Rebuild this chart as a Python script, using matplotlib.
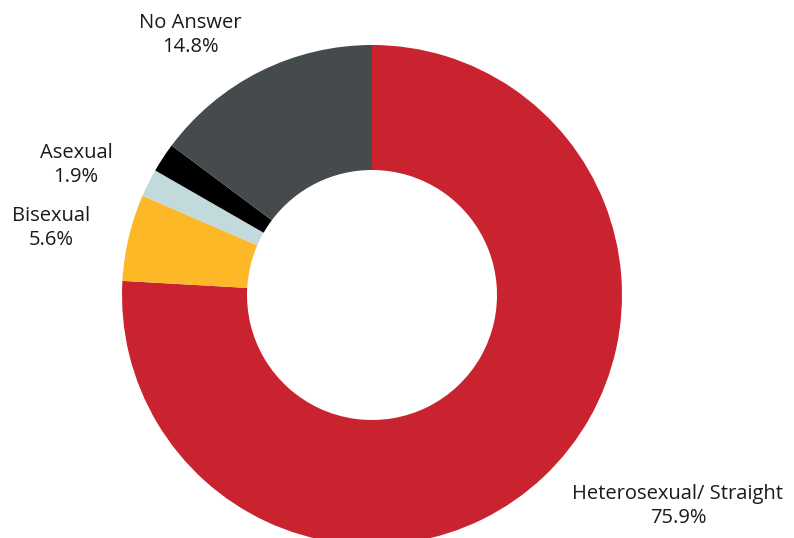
import matplotlib
matplotlib.use("Agg")
import matplotlib.pyplot as plt

labels = ["Heterosexual/ Straight", "Bisexual", "Other", "Asexual", "No Answer"]
values = [75.9, 5.6, 1.8, 1.9, 14.8]
colors = ["#C8232F", "#FDB827", "#C2DADC", "#000000", "#454A4D"]
shown = [True, True, False, True, True]
label_pos = {
    "Heterosexual/ Straight": (678, 506),
    "Bisexual": (51, 228),
    "Asexual": (76, 165),
    "No Answer": (190, 35),
}

W, H = 794, 538
fig = plt.figure(figsize=(W / 100, H / 100), dpi=100)
ax = fig.add_axes([0, 0, 1, 1])

cx, cy, r = 372, H - 295, 250
ax.pie(values, colors=colors, startangle=90, counterclock=False,
       center=(cx, cy), radius=r, frame=True,
       wedgeprops=dict(width=125, linewidth=0))
ax.set_xlim(0, W)
ax.set_ylim(0, H)
ax.axis("off")

for lab, val, show in zip(labels, values, shown):
    if not show:
        continue
    x, y = label_pos[lab]
    ax.text(x, H - y, f"{lab}\n{val:.1f}%", ha="center", va="center",
            fontsize=14.5, family="Open Sans", color="#1a1a1a",
            linespacing=1.32)

fig.savefig("out.png", dpi=100)
